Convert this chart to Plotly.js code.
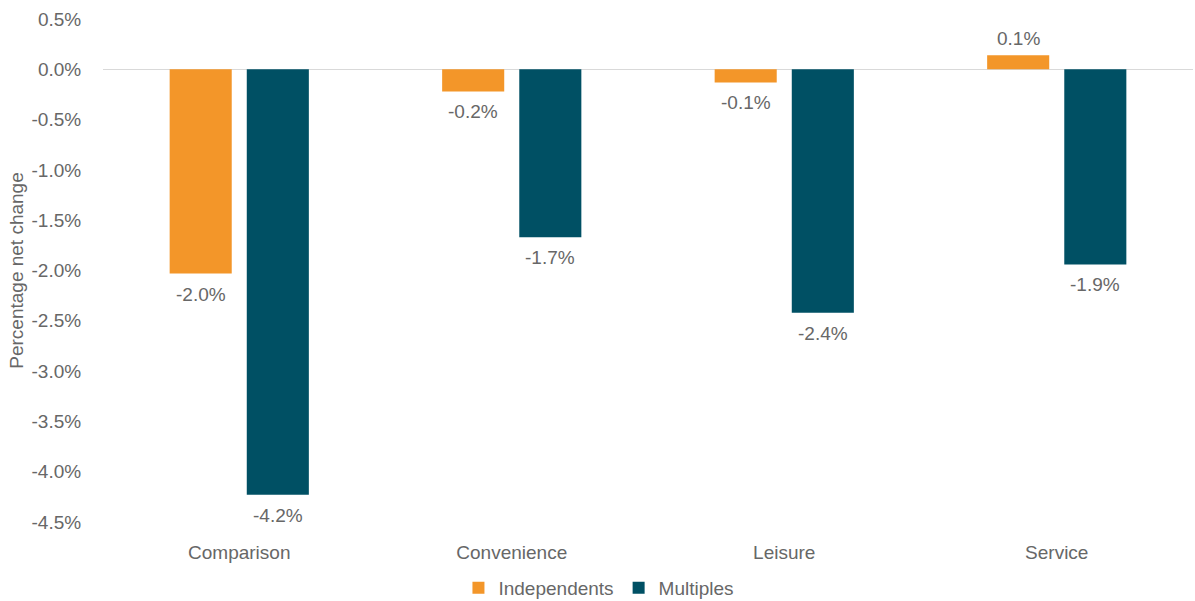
<!DOCTYPE html>
<html>
<head>
<meta charset="utf-8">
<script src="https://cdn.plot.ly/plotly-3.0.1.min.js"></script>
<style>html,body{margin:0;padding:0;background:#fff;}#chart{width:1195px;height:601px;}</style>
</head>
<body>
<div id="chart"></div>
<script>
var categories = ['Comparison', 'Convenience', 'Leisure', 'Service'];
var independents = [-2.03, -0.22, -0.13, 0.14];
var multiples = [-4.23, -1.67, -2.42, -1.94];
var yTickVals = [0.5, 0, -0.5, -1, -1.5, -2, -2.5, -3, -3.5, -4, -4.5];

var FONT = 'Liberation Sans, Arial, sans-serif';
var GREY = '#676767';
var ORANGE = '#F39629';
var TEAL = '#005064';
var FS = 19;

function fmt(v) { return v.toFixed(1) + '%'; }

var bargap = 0.434, bargroupgap = 0.195;
var slot = (1 - bargap) / 2;
var offsets = [-slot / 2, slot / 2];

var traces = [
  {type: 'bar', name: 'Independents', x: categories, y: independents,
   marker: {color: ORANGE}, hoverinfo: 'skip'},
  {type: 'bar', name: 'Multiples', x: categories, y: multiples,
   marker: {color: TEAL}, hoverinfo: 'skip'}
];

var annotations = [];
[independents, multiples].forEach(function (series, s) {
  series.forEach(function (v, i) {
    annotations.push({
      x: i + offsets[s], y: v, xref: 'x', yref: 'y',
      text: fmt(v), showarrow: false,
      yanchor: v < 0 ? 'top' : 'bottom',
      yshift: v < 0 ? -8 : 4,
      font: {family: FONT, size: FS, color: GREY}
    });
  });
});

var layout = {
  width: 1195, height: 601,
  margin: {l: 103, r: 2, t: 19, b: 79, autoexpand: false},
  paper_bgcolor: '#fff', plot_bgcolor: '#fff',
  barmode: 'group', bargap: bargap, bargroupgap: bargroupgap,
  font: {family: FONT, size: FS, color: GREY},
  xaxis: {
    type: 'category', showgrid: false, showline: false, zeroline: false,
    ticks: 'outside', ticklen: 13, tickcolor: 'rgba(0,0,0,0)',
    tickfont: {family: FONT, size: FS, color: GREY},
    range: [-0.5, 3.5], fixedrange: true
  },
  yaxis: {
    range: [-4.5, 0.5], showgrid: false, showline: false,
    zeroline: true, zerolinecolor: '#d9d9d9', zerolinewidth: 1.5,
    tickvals: yTickVals, ticktext: yTickVals.map(fmt),
    ticks: 'outside', ticklen: 17, tickcolor: 'rgba(0,0,0,0)',
    tickfont: {family: FONT, size: FS, color: GREY},
    title: {text: 'Percentage net change', font: {family: FONT, size: 19, color: GREY}, standoff: 2},
    automargin: false, fixedrange: true
  },
  showlegend: true,
  legend: {
    orientation: 'h', x: 0.455, xref: 'paper', xanchor: 'center',
    y: -0.131, yanchor: 'middle',
    font: {family: FONT, size: FS, color: GREY},
    itemwidth: 30, tracegroupgap: 0
  },
  annotations: annotations
};

Plotly.newPlot('chart', traces, layout, {displayModeBar: false, staticPlot: true});
</script>
</body>
</html>
